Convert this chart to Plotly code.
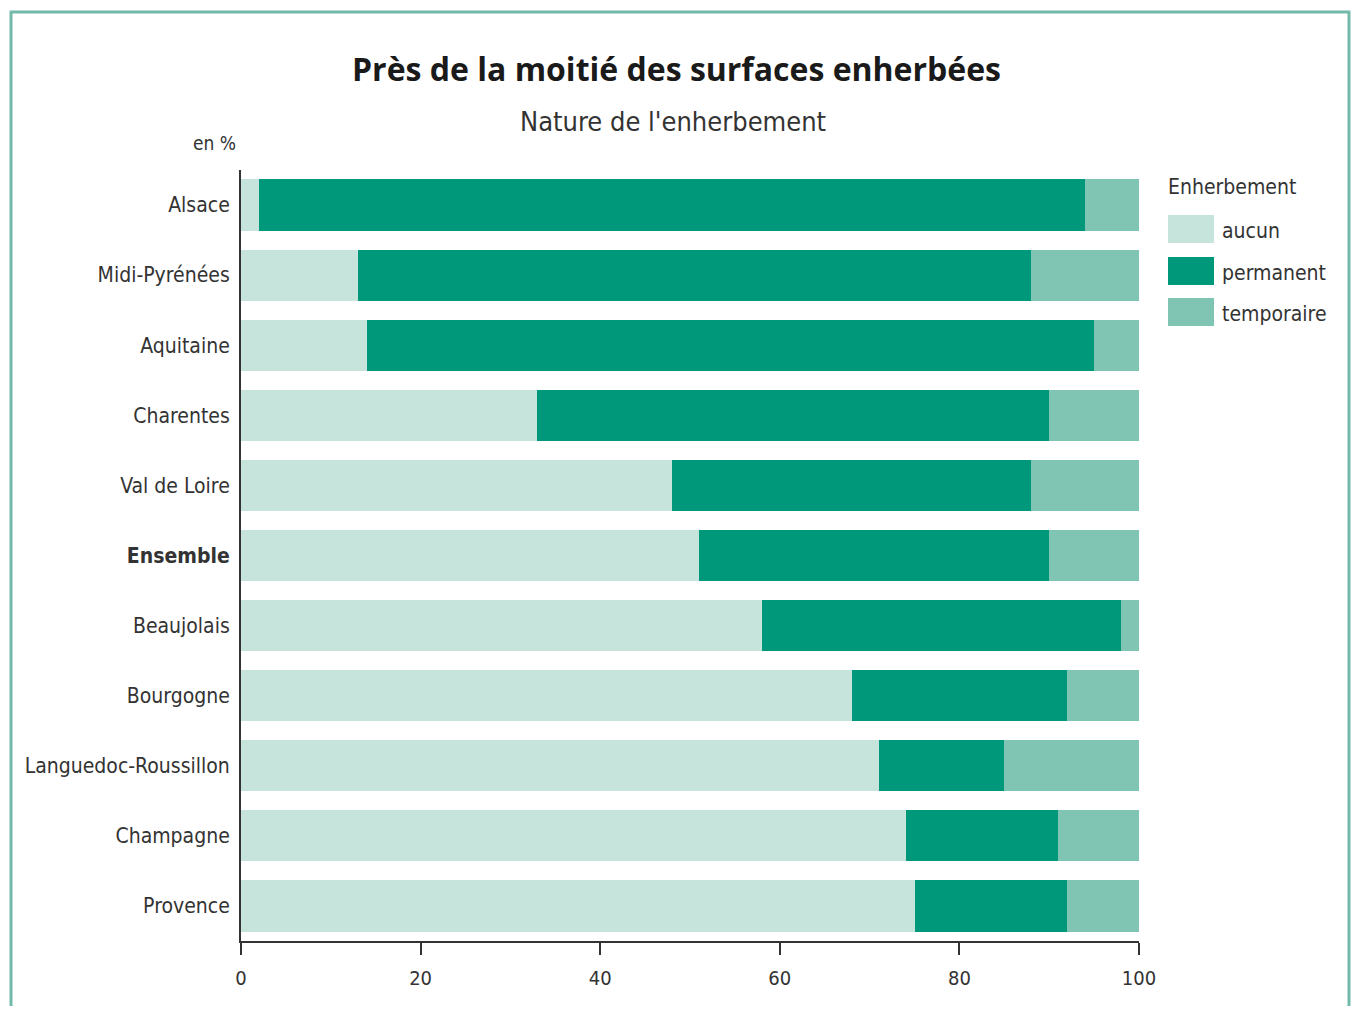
import plotly.graph_objects as go

regions = ["Alsace", "Midi-Pyrénées", "Aquitaine", "Charentes", "Val de Loire",
           "Ensemble", "Beaujolais", "Bourgogne", "Languedoc-Roussillon",
           "Champagne", "Provence"]
aucun = [2, 13, 14, 33, 48, 51, 58, 68, 71, 74, 75]
permanent = [92, 75, 81, 57, 40, 39, 40, 24, 14, 17, 17]
temporaire = [6, 12, 5, 10, 12, 10, 2, 8, 15, 9, 8]
tick_vals = [0, 20, 40, 60, 80, 100]
series_names = ["aucun", "permanent", "temporaire"]

col_aucun = "#c6e4dc"
col_perm = "#00987a"
col_temp = "#80c5b4"
colors = [col_aucun, col_perm, col_temp]
border_col = "#72b9a9"
text_col = "#333333"
FONT = "DejaVu Sans Condensed, Liberation Sans Narrow, Arial Narrow, sans-serif"

OFF = 8  # page body margin
W, H = 1360 - 2 * OFF, 1014 - 2 * OFF
# target screen coordinates of plot area
SX0, SX1, SY0, SY1 = 241, 1139, 170, 941
L = SX0 - OFF
R = W - (SX1 - OFF)
T = SY0 - OFF
B = H - (SY1 - OFF)
pw, ph = W - L - R, H - T - B


def px(x):
    return (x - SX0) / pw


def py(y):
    return (SY1 - y) / ph


fig = go.Figure()
for name, vals, col in zip(series_names, [aucun, permanent, temporaire], colors):
    fig.add_trace(go.Bar(y=regions, x=vals, name=name, orientation="h",
                         marker=dict(color=col, line=dict(width=0)),
                         hoverinfo="x+y+name", showlegend=False))

ticktext = ["<b>Ensemble</b>" if r == "Ensemble" else r for r in regions]

fig.update_layout(
    width=W, height=H, barmode="stack", bargap=0.27,
    plot_bgcolor="white", paper_bgcolor="white",
    margin=dict(l=L, r=R, t=T, b=B),
    font=dict(family=FONT, color=text_col, size=21),
    showlegend=False,
    xaxis=dict(range=[0, 100], tickvals=tick_vals, showgrid=False, zeroline=False,
               showline=True, linecolor="#333", linewidth=2, ticks="outside",
               ticklen=12, tickwidth=2, tickcolor="#333", ticklabelstandoff=6,
               tickfont=dict(size=20, family=FONT), layer="below traces"),
    yaxis=dict(categoryorder="array", categoryarray=regions, autorange="reversed",
               tickvals=regions, ticktext=ticktext, showgrid=False, zeroline=False,
               showline=True, linecolor="#333", linewidth=2, ticks="",
               ticklabelstandoff=5, tickfont=dict(size=21, family=FONT),
               layer="below traces"),
)

fig.add_annotation(text="<b>Près de la moitié des surfaces enherbées</b>",
                   xref="paper", yref="paper", x=px(676), y=py(68),
                   showarrow=False, font=dict(size=32, family="Open Sans, sans-serif", color="#1a1a1a"),
                   xanchor="center", yanchor="middle")
fig.add_annotation(text="Nature de l'enherbement", xref="paper", yref="paper",
                   x=px(673), y=py(121), showarrow=False,
                   font=dict(size=27, family=FONT, color=text_col),
                   xanchor="center", yanchor="middle")
fig.add_annotation(text="en %", xref="paper", yref="paper", x=px(238), y=py(143),
                   showarrow=False, font=dict(size=19, family=FONT, color=text_col),
                   xanchor="right", yanchor="middle")

# legend (large swatches as in the original)
fig.add_annotation(text="Enherbement", xref="paper", yref="paper", x=px(1166), y=py(187),
                   showarrow=False, font=dict(size=21, family=FONT, color=text_col),
                   xanchor="left", yanchor="middle")
sw_tops = [215, 257, 298]
for name, col, top in zip(series_names, colors, sw_tops):
    fig.add_shape(type="rect", xref="paper", yref="paper",
                  x0=px(1168), x1=px(1214), y0=py(top + 28), y1=py(top),
                  line=dict(width=0), fillcolor=col)
    fig.add_annotation(text=name, xref="paper", yref="paper", x=px(1220), y=py(top + 16),
                       showarrow=False, font=dict(size=21, family=FONT, color=text_col),
                       xanchor="left", yanchor="middle")

fig.add_shape(type="rect", xref="paper", yref="paper",
              x0=px(11), x1=px(1349), y0=py(1030), y1=py(12),
              line=dict(color=border_col, width=3), fillcolor="rgba(0,0,0,0)", layer="below")

fig.write_html("out.html")
